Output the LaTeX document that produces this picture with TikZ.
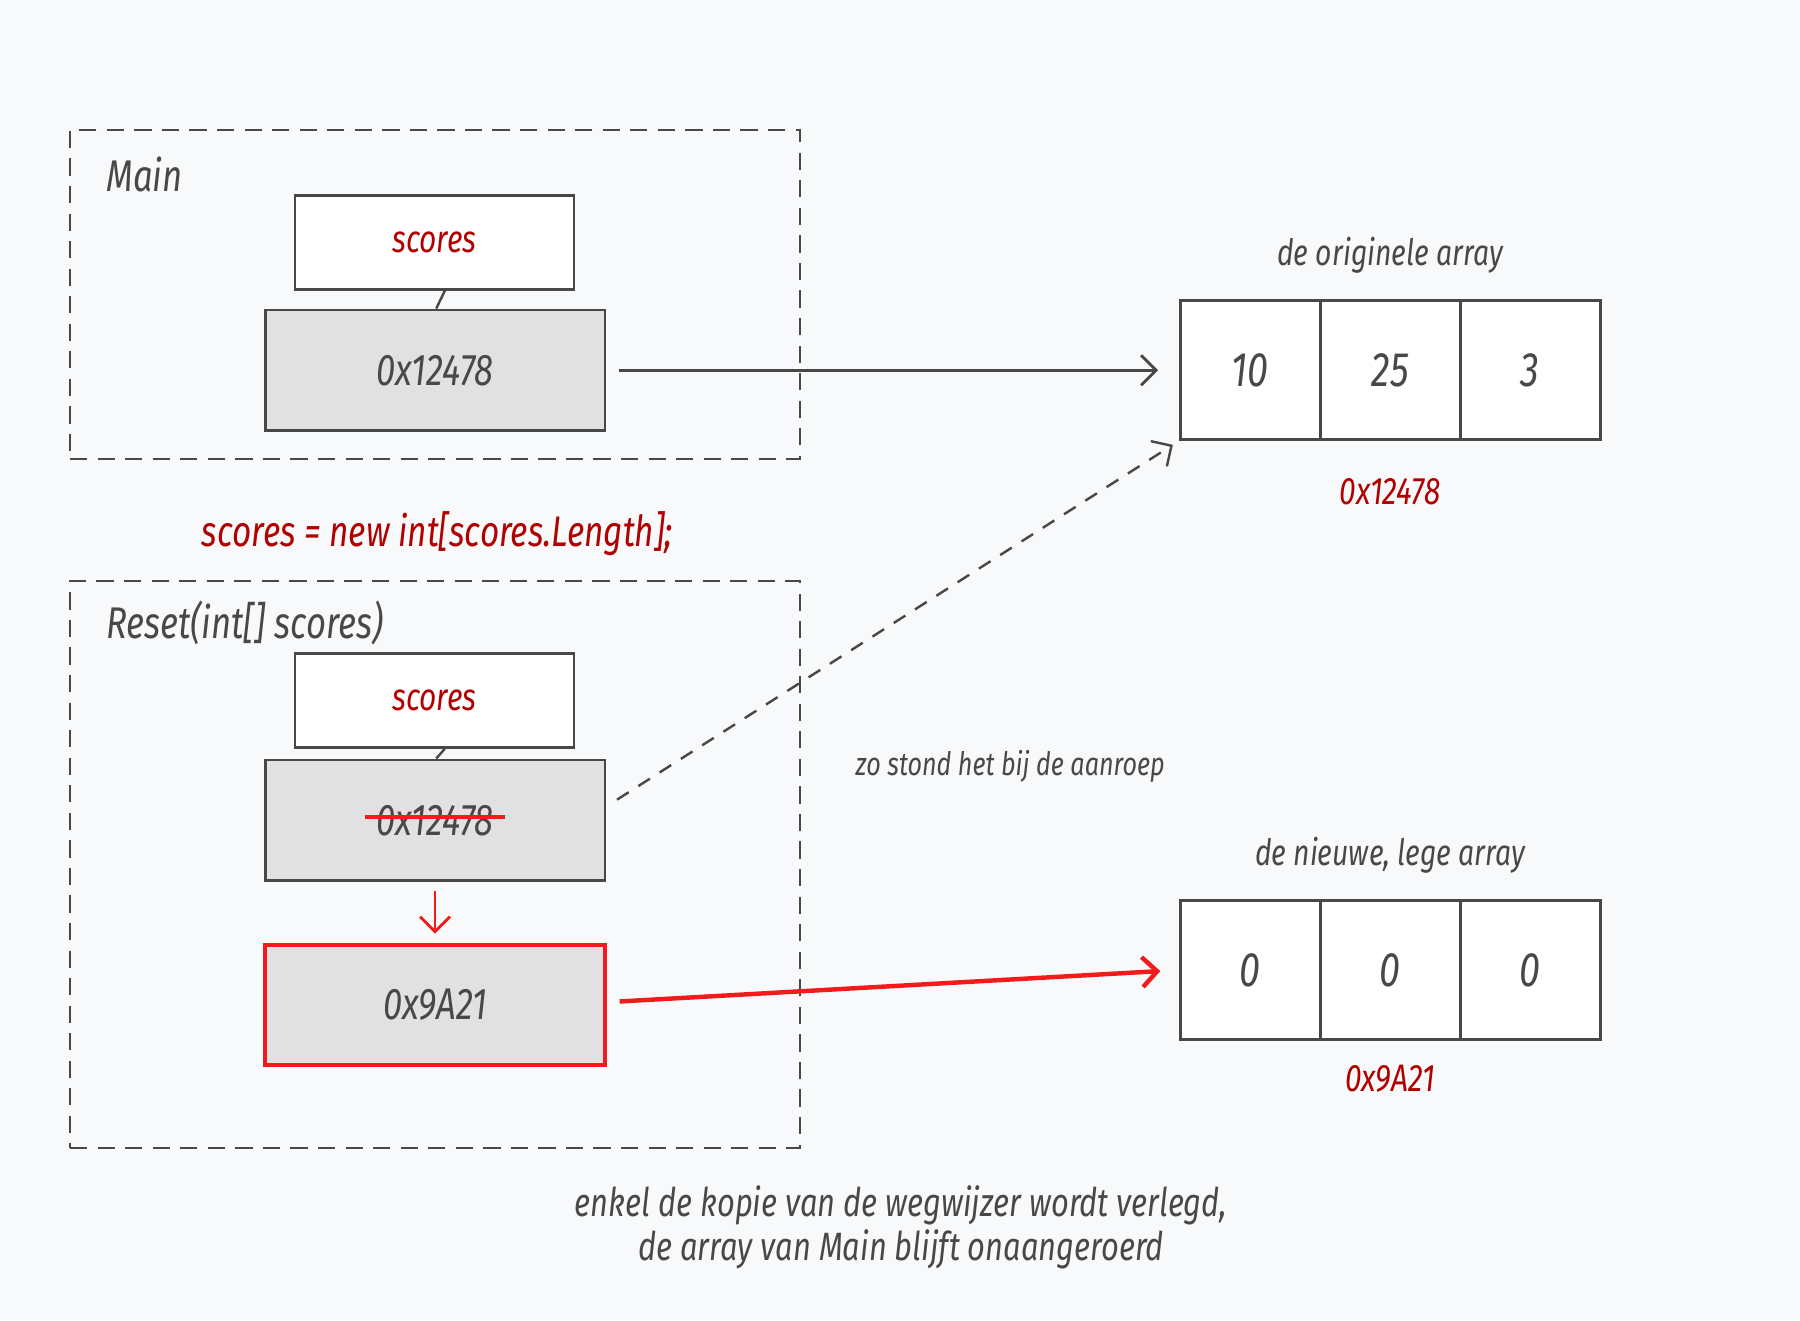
\documentclass[tikz,border=0pt]{standalone}
\usepackage{fontspec}
\setmainfont{Fira Sans}[FakeStretch=0.78]
\usetikzlibrary{arrows.meta}
\definecolor{bg}{HTML}{F8F9FA}
\definecolor{ink}{HTML}{484848}
\definecolor{cellgray}{HTML}{E1E1E1}
\definecolor{addrred}{HTML}{B00000}
\definecolor{hot}{HTML}{F21A1A}
\tikzset{
  frame/.style={draw=ink,line width=0.6pt,dash pattern=on 1.5mm off 0.9mm,minimum width=63.6mm,inner sep=0pt},
  hand/.style={font=\itshape\fontsize{11}{12}\selectfont,text=ink,inner sep=0pt},
  var/.style={draw=ink,fill=white,line width=0.7pt,minimum width=24.3mm,minimum height=8.2mm,inner sep=0pt,text=addrred,font=\itshape\fontsize{9.5}{11}\selectfont},
  ref/.style={draw=ink,fill=cellgray,line width=0.7pt,minimum width=29.6mm,minimum height=10.5mm,inner sep=0pt,text=ink,font=\itshape\fontsize{11}{12}\selectfont},
  slot/.style={draw=ink,fill=white,line width=0.7pt,minimum width=12.2mm,minimum height=12.1mm,inner sep=0pt,text=ink,font=\itshape\fontsize{12}{13}\selectfont},
  small/.style={font=\itshape\fontsize{9}{10}\selectfont,text=ink,inner sep=0pt},
  addrlbl/.style={font=\itshape\fontsize{9.5}{11}\selectfont,text=addrred,inner sep=0pt},
  ptr/.style={-{Straight Barb[length=1.3mm,width=2.6mm]},draw=ink,line width=0.7pt}
}
\begin{document}
\begin{tikzpicture}[x=0.1mm,y=-0.1mm,node distance=12.2mm]
      \fill[bg] (0,0) rectangle (1568,1150);
      \node[frame,minimum height=28.7mm] (main) at (379,256.5) {};
      \node[frame,minimum height=49.4mm] (reset) at (379,753) {};
      \node[hand,anchor=west] (mainlbl) at (92,152) {Main};
      \node[hand,anchor=west] (resetlbl) at (92,543) {Reset(int[] scores)};

      \node[var] (v1) at (378.5,211) {scores};
      \node[ref] (p1) at (379,322.5) {0x12478};
      \node[var] (v2) at (378.5,610) {scores};
      \node[ref] (p2) at (379,714.5) {0x12478};
      \node[ref,draw=hot,line width=1pt] (p3) at (379,875.5) {0x9A21};

      \node[slot] (a1) at (1089,322.5) {10};
      \node[slot,right of=a1] (a2) {25};
      \node[slot,right of=a2] (a3) {3};
      \node[small] (alab) at (1211,222) {de originele array};
      \node[addrlbl] (aaddr) at (1211,428) {0x12478};

      \node[slot] (b1) at (1089,845) {0};
      \node[slot,right of=b1] (b2) {0};
      \node[slot,right of=b2] (b3) {0};
      \node[small] (blab) at (1211,745) {de nieuwe, lege array};
      \node[addrlbl] (baddr) at (1211,940) {0x9A21};

      \node[hand,text=addrred,font=\itshape\fontsize{10.6}{12}\selectfont] (stmt) at (381,465) {scores = new int[scores.Length];};
      \node[small,font=\itshape\fontsize{8}{9}\selectfont] (note) at (880,668) {zo stond het bij de aanroep};
      \node[hand,align=center,font=\itshape\fontsize{9.8}{11}\selectfont] (concl) at (785,1069) {enkel de kopie van de wegwijzer wordt verlegd,\\de array van Main blijft onaangeroerd};

      \draw[ink,line width=0.6pt] ([xshift=0.9mm]v1.south) -- ([xshift=0.1mm]p1.north);
      \draw[ink,line width=0.6pt] ([xshift=0.9mm]v2.south) -- ([xshift=0.1mm]p2.north);
      \draw[ptr,shorten <=1.1mm,shorten >=1.8mm] (p1) -- (a1);
      \draw[ptr,line width=0.6pt,dash pattern=on 1.2mm off 1mm,shorten <=1.1mm,shorten >=0.6mm] ([yshift=1.2mm]p2.east) -- (a1.south west);
      \draw[ptr,draw=hot,shorten <=0.8mm,shorten >=0.8mm] (p2) -- (p3);
      \draw[ptr,draw=hot,line width=1.1pt,shorten <=1.1mm,shorten >=1.6mm] ([yshift=0.25mm]p3.east) -- (b1.west);
      \draw[hot,line width=1pt] ([xshift=-6.1mm,yshift=0.3mm]p2.center) -- ([xshift=6.1mm,yshift=0.3mm]p2.center);
    \end{tikzpicture}
\end{document}
